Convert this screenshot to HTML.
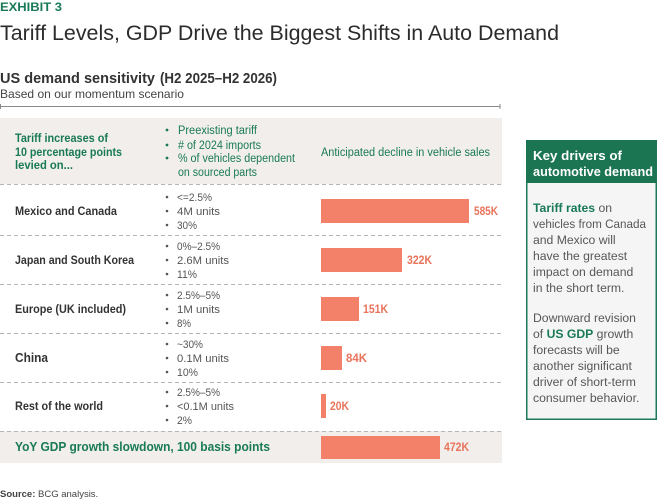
<!DOCTYPE html>
<html>
<head>
<meta charset="utf-8">
<style>
  html,body{margin:0;padding:0;background:#fff;}
  svg{display:block;}
  text{font-family:"Liberation Sans",Arial,sans-serif;}
</style>
</head>
<body>
<svg width="658" height="500" viewBox="0 0 658 500" xmlns="http://www.w3.org/2000/svg">
  <!-- Header texts -->
  <text x="0" y="11" font-size="12" font-weight="bold" fill="#197a56" textLength="62" lengthAdjust="spacingAndGlyphs">EXHIBIT 3</text>
  <text x="0" y="40" font-size="21.5" fill="#2b2b2b" textLength="559" lengthAdjust="spacingAndGlyphs">Tariff Levels, GDP Drive the Biggest Shifts in Auto Demand</text>

  <text x="0" y="83" font-size="15" font-weight="bold" fill="#333" textLength="155" lengthAdjust="spacingAndGlyphs">US demand sensitivity</text>
  <text x="160" y="83" font-size="15" font-weight="bold" fill="#333" textLength="117" lengthAdjust="spacingAndGlyphs">(H2 2025–H2 2026)</text>
  <text x="0" y="98" font-size="12" fill="#444" textLength="184" lengthAdjust="spacingAndGlyphs">Based on our momentum scenario</text>

  <!-- rule -->
  <line x1="0" y1="106.5" x2="500" y2="106.5" stroke="#8a8a8a" stroke-width="1"/>
  <line x1="0.5" y1="104" x2="0.5" y2="109" stroke="#8a8a8a" stroke-width="1"/>
  <line x1="500" y1="104" x2="500" y2="109" stroke="#8a8a8a" stroke-width="1"/>

  <!-- header band -->
  <rect x="0" y="118" width="502" height="66" fill="#f1eeeb"/>
  <text x="15" y="142" font-size="12" font-weight="bold" fill="#197a56" textLength="93" lengthAdjust="spacingAndGlyphs">Tariff increases of</text>
  <text x="15" y="156" font-size="12" font-weight="bold" fill="#197a56" textLength="107" lengthAdjust="spacingAndGlyphs">10 percentage points</text>
  <text x="15" y="169" font-size="12" font-weight="bold" fill="#197a56" textLength="58" lengthAdjust="spacingAndGlyphs">levied on...</text>

  <g fill="#197a56">
    <circle cx="167" cy="130" r="1.4"/>
    <circle cx="167" cy="145" r="1.4"/>
    <circle cx="167" cy="158" r="1.4"/>
  </g>
  <g font-size="11.5" fill="#197a56">
    <text x="178" y="134" textLength="79" lengthAdjust="spacingAndGlyphs">Preexisting tariff</text>
    <text x="178" y="149" textLength="83" lengthAdjust="spacingAndGlyphs"># of 2024 imports</text>
    <text x="178" y="162" textLength="117" lengthAdjust="spacingAndGlyphs">% of vehicles dependent</text>
    <text x="178" y="176" textLength="79" lengthAdjust="spacingAndGlyphs">on sourced parts</text>
    <text x="321" y="156" textLength="169" lengthAdjust="spacingAndGlyphs">Anticipated decline in vehicle sales</text>
  </g>

  <!-- GDP band -->
  <rect x="0" y="431" width="502" height="32" fill="#f1eeeb"/>

  <!-- dashed lines -->
  <g stroke="#b5b5b5" stroke-width="1" stroke-dasharray="4,3">
    <line x1="0" y1="184.5" x2="502" y2="184.5"/>
    <line x1="0" y1="235.5" x2="502" y2="235.5"/>
    <line x1="0" y1="284.5" x2="502" y2="284.5"/>
    <line x1="0" y1="333.5" x2="502" y2="333.5"/>
    <line x1="0" y1="382.5" x2="502" y2="382.5"/>
    <line x1="0" y1="431.5" x2="502" y2="431.5"/>
  </g>

  <!-- row labels -->
  <g font-size="12" font-weight="bold" fill="#333">
    <text x="15" y="215" textLength="102" lengthAdjust="spacingAndGlyphs">Mexico and Canada</text>
    <text x="15" y="264" textLength="119" lengthAdjust="spacingAndGlyphs">Japan and South Korea</text>
    <text x="15" y="313" textLength="111" lengthAdjust="spacingAndGlyphs">Europe (UK included)</text>
    <text x="15" y="362" font-size="13" textLength="33" lengthAdjust="spacingAndGlyphs">China</text>
    <text x="15" y="410" textLength="88" lengthAdjust="spacingAndGlyphs">Rest of the world</text>
  </g>
  <text x="15" y="451" font-size="13" font-weight="bold" fill="#197a56" textLength="255" lengthAdjust="spacingAndGlyphs">YoY GDP growth slowdown, 100 basis points</text>

  <!-- bullet dots -->
  <g fill="#555">
    <circle cx="167" cy="197" r="1.3"/><circle cx="167" cy="211" r="1.3"/><circle cx="167" cy="225" r="1.3"/>
    <circle cx="167" cy="246" r="1.3"/><circle cx="167" cy="260" r="1.3"/><circle cx="167" cy="274" r="1.3"/>
    <circle cx="167" cy="295" r="1.3"/><circle cx="167" cy="309" r="1.3"/><circle cx="167" cy="323" r="1.3"/>
    <circle cx="167" cy="344" r="1.3"/><circle cx="167" cy="358" r="1.3"/><circle cx="167" cy="372" r="1.3"/>
    <circle cx="167" cy="392" r="1.3"/><circle cx="167" cy="406" r="1.3"/><circle cx="167" cy="420" r="1.3"/>
  </g>
  <g font-size="11" fill="#555">
    <text x="177" y="201" textLength="35" lengthAdjust="spacingAndGlyphs">&lt;=2.5%</text>
    <text x="177" y="215" textLength="43" lengthAdjust="spacingAndGlyphs">4M units</text>
    <text x="177" y="229" textLength="20" lengthAdjust="spacingAndGlyphs">30%</text>

    <text x="177" y="250" textLength="43" lengthAdjust="spacingAndGlyphs">0%–2.5%</text>
    <text x="177" y="264" textLength="52" lengthAdjust="spacingAndGlyphs">2.6M units</text>
    <text x="177" y="278" textLength="20" lengthAdjust="spacingAndGlyphs">11%</text>

    <text x="177" y="299" textLength="43" lengthAdjust="spacingAndGlyphs">2.5%–5%</text>
    <text x="177" y="313" textLength="43" lengthAdjust="spacingAndGlyphs">1M units</text>
    <text x="177" y="327" textLength="14" lengthAdjust="spacingAndGlyphs">8%</text>

    <text x="177" y="348" textLength="26" lengthAdjust="spacingAndGlyphs">~30%</text>
    <text x="177" y="362" textLength="52" lengthAdjust="spacingAndGlyphs">0.1M units</text>
    <text x="177" y="376" textLength="21" lengthAdjust="spacingAndGlyphs">10%</text>

    <text x="177" y="396" textLength="43" lengthAdjust="spacingAndGlyphs">2.5%–5%</text>
    <text x="177" y="410" textLength="57" lengthAdjust="spacingAndGlyphs">&lt;0.1M units</text>
    <text x="177" y="424" textLength="15" lengthAdjust="spacingAndGlyphs">2%</text>
  </g>

  <!-- bars -->
  <g fill="#f38169">
    <rect x="321" y="199" width="148" height="24"/>
    <rect x="321" y="248" width="81" height="24"/>
    <rect x="321" y="297" width="38" height="24"/>
    <rect x="321" y="346" width="21" height="24"/>
    <rect x="321" y="394" width="5" height="24"/>
    <rect x="321" y="436" width="119" height="23"/>
  </g>
  <g font-size="11.5" font-weight="bold" fill="#e9735b">
    <text x="474" y="215" textLength="24" lengthAdjust="spacingAndGlyphs">585K</text>
    <text x="407" y="264" textLength="25" lengthAdjust="spacingAndGlyphs">322K</text>
    <text x="363" y="313" textLength="25" lengthAdjust="spacingAndGlyphs">151K</text>
    <text x="346" y="362" textLength="21" lengthAdjust="spacingAndGlyphs">84K</text>
    <text x="330" y="410" textLength="19" lengthAdjust="spacingAndGlyphs">20K</text>
    <text x="444" y="451" textLength="25" lengthAdjust="spacingAndGlyphs">472K</text>
  </g>

  <!-- right box -->
  <rect x="526.75" y="140.75" width="129.5" height="278.5" fill="#f5f5f5" stroke="#1f7a57" stroke-width="1.5"/>
  <rect x="526" y="140" width="131" height="43" fill="#1b7553"/>
  <text x="533" y="160" font-size="13" font-weight="bold" fill="#fff" textLength="89" lengthAdjust="spacingAndGlyphs">Key drivers of</text>
  <text x="533" y="176" font-size="13" font-weight="bold" fill="#fff" textLength="120" lengthAdjust="spacingAndGlyphs">automotive demand</text>

  <g font-size="12.2" fill="#575757">
    <text x="533" y="212"><tspan font-weight="bold" fill="#197a56">Tariff rates</tspan> on</text>
    <text x="533" y="228" textLength="113" lengthAdjust="spacingAndGlyphs">vehicles from Canada</text>
    <text x="533" y="244">and Mexico will</text>
    <text x="533" y="260">have the greatest</text>
    <text x="533" y="276">impact on demand</text>
    <text x="533" y="292">in the short term.</text>

    <text x="533" y="322">Downward revision</text>
    <text x="533" y="338">of <tspan font-weight="bold" fill="#197a56">US GDP</tspan> growth</text>
    <text x="533" y="354">forecasts will be</text>
    <text x="533" y="370">another significant</text>
    <text x="533" y="386">driver of short-term</text>
    <text x="533" y="402">consumer behavior.</text>
  </g>

  <!-- source -->
  <text x="0" y="497" font-size="9.5" fill="#444"><tspan font-weight="bold">Source:</tspan> BCG analysis.</text>
</svg>
</body>
</html>
